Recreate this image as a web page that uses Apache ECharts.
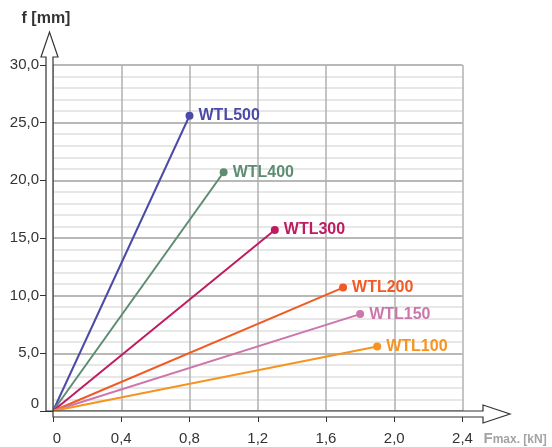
<!DOCTYPE html>
<html>
<head>
<meta charset="utf-8">
<script src="https://cdn.jsdelivr.net/npm/echarts@6/dist/echarts.min.js"></script>
<style>
html,body{margin:0;padding:0;background:#fff;}
#c{width:552px;height:447px;}
</style>
</head>
<body>
<div id="c"></div>
<script>
const seriesNames = ['WTL500', 'WTL400', 'WTL300', 'WTL200', 'WTL150', 'WTL100'];
const forceMax = [0.8, 1.0, 1.3, 1.7, 1.8, 1.9];
const deflectionMax = [25.6, 20.7, 15.7, 10.7, 8.4, 5.6];
const seriesColors = ['#4b4aa6', '#5e8c72', '#c01a60', '#f05a24', '#cc76ab', '#f7931e'];
const xTickLabels = ['0', '0,4', '0,8', '1,2', '1,6', '2,0', '2,4'];
const yTickLabels = ['0', '5,0', '10,0', '15,0', '20,0', '25,0', '30,0'];

const FONT = '"Liberation Sans", Arial, sans-serif';
const chart = echarts.init(document.getElementById('c'));

const series = seriesNames.map((name, i) => ({
  name: name,
  type: 'line',
  color: seriesColors[i],
  lineStyle: { width: 2, color: seriesColors[i] },
  symbol: 'circle',
  symbolSize: 8,
  showAllSymbol: true,
  z: 5,
  data: [
    { value: [0, 0], symbol: 'none' },
    {
      value: [forceMax[i], deflectionMax[i]],
      symbol: 'circle',
      symbolSize: 8,
      itemStyle: { color: seriesColors[i] },
      label: {
        show: true,
        position: 'right',
        distance: 5,
        formatter: name,
        color: seriesColors[i],
        fontFamily: FONT,
        fontWeight: 'bold',
        fontSize: 16
      }
    }
  ]
}));

chart.setOption({
  animation: false,
  backgroundColor: '#fff',
  grid: { left: 53, right: 89.5, top: 65, bottom: 36, containLabel: false },
  xAxis: {
    type: 'value',
    min: 0, max: 2.4, interval: 0.4,
    name: '{a|F}{b|max. [kN]}',
    nameLocation: 'end',
    nameGap: 21,
    nameTextStyle: {
      verticalAlign: 'top',
      padding: [20, 0, 0, 0],
      rich: {
        a: { fontSize: 15, fontWeight: 'bold', color: '#a3a3a3', fontFamily: FONT },
        b: { fontSize: 12, fontWeight: 'bold', color: '#a3a3a3', fontFamily: FONT, padding: [3, 0, 0, 0] }
      }
    },
    axisLine: { show: false },
    axisTick: { show: true, length: 11, lineStyle: { color: '#333', width: 1 } },
    axisLabel: {
      margin: 20,
      fontSize: 15,
      color: '#333',
      fontFamily: FONT,
      formatter: (v, i) => i === 0 ? '{z|' + xTickLabels[i] + '}' : xTickLabels[i],
      rich: { z: { fontSize: 15, color: '#333', fontFamily: FONT, padding: [0, 0, 0, 8] } }
    },
    splitLine: { show: true, lineStyle: { color: '#b0b0b0', width: 1.5 } }
  },
  yAxis: {
    type: 'value',
    min: 0, max: 30, interval: 5,
    name: 'f [mm]',
    nameLocation: 'end',
    nameGap: 38,
    nameTextStyle: {
      fontSize: 16, fontWeight: 'bold', color: '#333', fontFamily: FONT,
      padding: [0, 14, 0, 0]
    },
    axisLine: { show: false },
    axisTick: { show: true, length: 13, lineStyle: { color: '#333', width: 1 } },
    axisLabel: {
      margin: 14,
      fontSize: 15,
      color: '#333',
      fontFamily: FONT,
      formatter: (v, i) => i === 0 ? '{z|' + yTickLabels[i] + '}' : yTickLabels[i],
      rich: { z: { fontSize: 15, color: '#333', fontFamily: FONT, padding: [0, 0, 14, 0] } }
    },
    minorTick: { show: false, splitNumber: 5 },
    splitLine: { show: true, lineStyle: { color: '#a0a0a0', width: 1.5 } },
    minorSplitLine: { show: true, lineStyle: { color: '#e0e0e0', width: 1.5 } }
  },
  series: series
});

// hollow axis arrows, placed from the grid's own pixel coordinates
const o = chart.convertToPixel({ gridIndex: 0 }, [0, 0]);
const t = chart.convertToPixel({ gridIndex: 0 }, [0, 30]);
const r = chart.convertToPixel({ gridIndex: 0 }, [2.4, 0]);
const ox = o[0], oy = o[1], ty = t[1], rx = r[0];

const yArrow = [
  [ox - 7, oy], [ox, oy], [ox, ty - 8], [ox + 5, ty - 8], [ox - 3.5, ty - 33],
  [ox - 12, ty - 8], [ox - 7, ty - 8]
];
const xArrow = [
  [ox, oy], [rx + 20.5, oy], [rx + 20.5, oy - 6], [rx + 47.5, oy + 3], [rx + 20.5, oy + 12],
  [rx + 20.5, oy + 6], [ox, oy + 6]
];

chart.setOption({
  graphic: [
    { type: 'polygon', z: 100, shape: { points: yArrow }, style: { fill: '#fff', stroke: '#333', lineWidth: 1.2 } },
    { type: 'polygon', z: 100, shape: { points: xArrow }, style: { fill: '#fff', stroke: '#333', lineWidth: 1.2 } }
  ]
});
</script>
</body>
</html>
